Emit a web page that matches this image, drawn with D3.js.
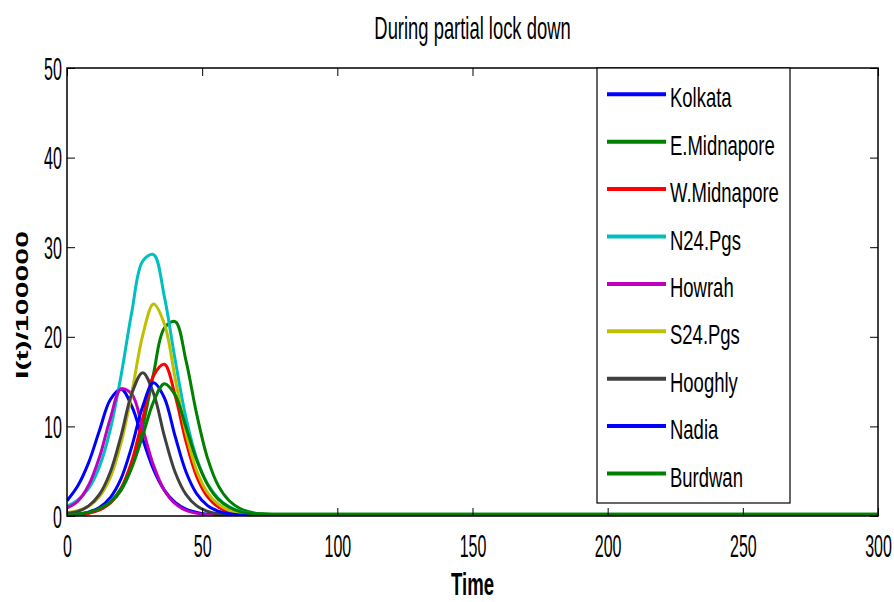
<!DOCTYPE html>
<html><head><meta charset="utf-8">
<script src="https://cdn.jsdelivr.net/npm/d3@7"></script>
<style>
html,body{margin:0;padding:0;background:#fff;}
svg{display:block;font-family:"Liberation Sans",Arial,Helvetica,sans-serif;}
</style></head>
<body>
<svg id="chart" width="894" height="602"></svg>
<script>
const title = "During partial lock down";
const xLabel = "Time";
const yLabel = "I(t)/100000";
const xTicks = [0, 50, 100, 150, 200, 250, 300];
const yTicks = [0, 10, 20, 30, 40, 50];
const times = [0,4,8,12,16,20,24,28,32,36,40,44,48,52,56,60,64,68,72,76,80,100,150,200,250,300];

const seriesNames = ["Kolkata","E.Midnapore","W.Midnapore","N24.Pgs","Howrah","S24.Pgs","Hooghly","Nadia","Burdwan"];
const seriesColors = ["#0000ff","#008000","#ff0000","#00bfbf","#bf00bf","#bfbf00","#404040","#0000ff","#008000"];

const kolkata    = [1.70,3.37,5.96,9.54,12.97,14.17,12.22,8.59,5.21,2.89,1.52,0.78,0.40,0.20,0.10,0.05,0.02,0.01,0,0,0,0,0,0,0,0];
const eMidnapore = [0.15,0.20,0.34,0.70,1.47,2.86,5.52,9.95,15.87,20.97,21.70,17.37,11.34,6.43,3.36,1.70,0.84,0.41,0.25,0.2,0.2,0.2,0.2,0.2,0.2,0.2];
const wMidnapore = [0.06,0.14,0.31,0.67,1.46,3.09,6.14,10.85,15.65,16.93,13.44,8.33,4.40,2.14,1.00,0.45,0.21,0.09,0.04,0.02,0.01,0,0,0,0,0];
const n24Pgs     = [1.10,1.80,3.07,5.51,9.62,15.69,22.82,28.45,29.18,24.51,17.44,10.98,6.40,3.57,1.96,1.03,0.55,0.29,0.15,0.08,0.04,0,0,0,0,0];
const howrah     = [0.90,1.65,3.43,6.55,10.86,14.18,13.60,9.76,5.65,2.88,1.37,0.63,0.29,0.13,0.06,0.03,0.01,0,0,0,0,0,0,0,0,0];
const s24Pgs     = [0.40,0.60,1.09,2.18,4.28,8.15,13.75,20.17,23.65,21.45,15.38,9.31,5.04,2.58,1.31,0.63,0.30,0.15,0.07,0.03,0.01,0,0,0,0,0];
const hooghly    = [0.30,0.52,1.13,2.41,4.88,8.95,13.70,16.00,13.70,8.95,4.88,2.41,1.13,0.52,0.24,0.11,0.05,0.02,0.01,0,0,0,0,0,0,0];
const nadia      = [0.09,0.20,0.44,0.96,2.05,4.17,7.80,12.23,14.86,13.20,8.90,4.94,2.47,1.16,0.53,0.24,0.11,0.05,0.02,0.01,0,0,0,0,0,0];
const burdwan    = [0.20,0.22,0.41,0.82,1.58,3.02,5.43,8.96,12.74,14.77,13.51,9.94,6.22,3.52,1.85,0.98,0.49,0.28,0.22,0.2,0.2,0.2,0.2,0.2,0.2,0.2];

const seriesValues = [kolkata,eMidnapore,wMidnapore,n24Pgs,howrah,s24Pgs,hooghly,nadia,burdwan];

const svg = d3.select("#chart");
const L = 67, R = 878, T = 68, B = 516;
const x = d3.scaleLinear().domain([0, 300]).range([L, R]);
const y = d3.scaleLinear().domain([0, 50]).range([B, T]);

function label(g, px, py, str, size, sx, anchor, weight) {
  return g.append("text")
    .attr("transform", `translate(${px},${py}) scale(${sx},1)`)
    .attr("text-anchor", anchor)
    .style("font-size", size + "px")
    .style("font-weight", weight || "normal")
    .attr("fill", "#000")
    .text(str);
}

// lines
const line = d3.line().curve(d3.curveCatmullRom.alpha(0.5))
  .x((d, i) => x(times[i])).y(d => y(d));
const plot = svg.append("g");
plot.append("defs").append("clipPath").attr("id","clip")
  .append("rect").attr("x", L).attr("y", T).attr("width", R - L).attr("height", B - T);
const lg = plot.append("g").attr("clip-path","url(#clip)");
seriesValues.forEach((vals, k) => {
  lg.append("path").datum(vals)
    .attr("d", line)
    .attr("fill", "none")
    .attr("stroke", seriesColors[k])
    .attr("stroke-width", 3)
    .attr("stroke-linejoin", "round");
});

// axes
const fmt = d3.format("d");
const gx = svg.append("g").attr("transform", `translate(0,${B})`)
  .call(d3.axisBottom(x).tickValues(xTicks).tickFormat(fmt).tickSizeInner(-8).tickSizeOuter(0));
const gxTop = svg.append("g").attr("transform", `translate(0,${T})`)
  .call(d3.axisTop(x).tickValues(xTicks).tickFormat("").tickSizeInner(-8).tickSizeOuter(0));
const gy = svg.append("g").attr("transform", `translate(${L},0)`)
  .call(d3.axisLeft(y).tickValues(yTicks).tickFormat(fmt).tickSizeInner(-8).tickSizeOuter(0));
const gyR = svg.append("g").attr("transform", `translate(${R},0)`)
  .call(d3.axisRight(y).tickValues(yTicks).tickFormat("").tickSizeInner(-8).tickSizeOuter(0));
[gx, gxTop, gy, gyR].forEach(g => {
  g.select(".domain").remove();
  g.selectAll(".tick line").attr("stroke", "#000").attr("stroke-width", 1);
});
gx.selectAll(".tick text")
  .attr("x", 0).attr("y", 0).attr("dy", null)
  .attr("transform", "translate(0,41) scale(0.5,1)")
  .attr("text-anchor", "middle")
  .style("font-size", "32px").style("font-family", "inherit").attr("fill", "#000");
gy.selectAll(".tick text")
  .attr("x", 0).attr("y", 0).attr("dy", null)
  .attr("transform", "translate(-5,11) scale(0.52,1)")
  .attr("text-anchor", "end")
  .style("font-size", "31px").style("font-family", "inherit").attr("fill", "#000");

// box
svg.append("rect").attr("x", L).attr("y", T).attr("width", R - L).attr("height", B - T)
  .attr("fill", "none").attr("stroke", "#000").attr("stroke-width", 1.5);

// legend
const lgX = 597, lgY = 68, lgW = 193, lgH = 435;
const leg = svg.append("g");
leg.append("rect").attr("x", lgX).attr("y", lgY).attr("width", lgW).attr("height", lgH)
  .attr("fill", "#fff").attr("stroke", "#000").attr("stroke-width", 1.2);
seriesNames.forEach((n, i) => {
  const ly = 94.3 + i * 47.4;
  leg.append("line").attr("x1", 607).attr("x2", 666).attr("y1", ly).attr("y2", ly)
    .attr("stroke", seriesColors[i]).attr("stroke-width", 4);
  label(leg, 670, ly + 13, n, 28, 0.66, "start");
});

// titles
label(svg, (L + R) / 2, 39, title, 32, 0.575, "middle");
label(svg, (L + R) / 2, 595, xLabel, 31, 0.6, "middle", "bold");
svg.append("text")
  .attr("transform", "translate(28,305) scale(0.6,1) rotate(-90)")
  .attr("text-anchor", "middle")
  .style("font-size", "28px").style("font-weight", "bold")
  .attr("textLength", 148).attr("lengthAdjust", "spacingAndGlyphs")
  .text(yLabel);
</script>
</body></html>
